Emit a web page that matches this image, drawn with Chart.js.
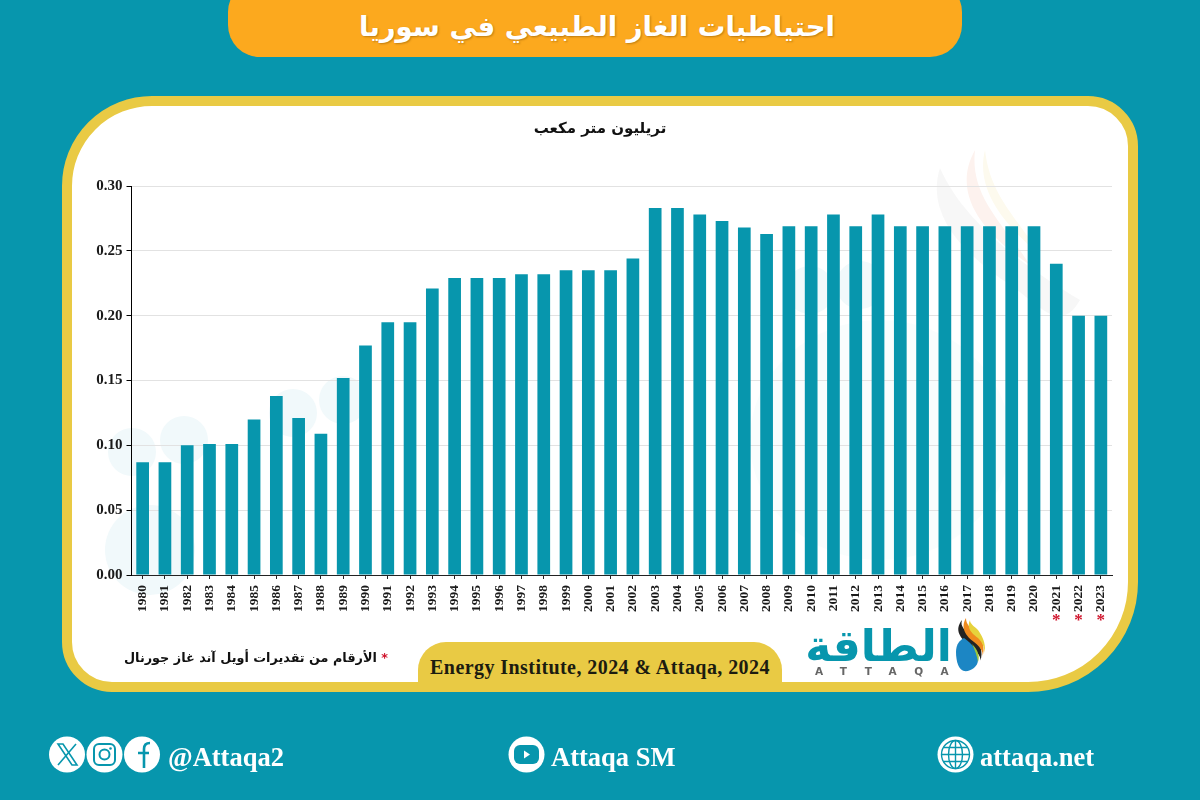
<!DOCTYPE html>
<html lang="ar">
<head>
<meta charset="utf-8">
<title>احتياطيات الغاز الطبيعي في سوريا</title>
<script src="https://cdn.jsdelivr.net/npm/chart.js@4"></script>
<style>
  html, body { margin: 0; padding: 0; background: #0796ad; }
  #page { position: relative; width: 1200px; height: 800px; overflow: hidden; background: #0796ad; }
  #page > * { position: absolute; }
  #banner { left: 228px; top: -20px; width: 734px; height: 77px; background: #fca91e; border-radius: 32px; }
  #title { left: 228px; top: 10px; width: 738px; text-align: center; direction: rtl; color: #fff;
    font: bold 27.5px "DejaVu Sans", sans-serif; text-shadow: 1px 1px 2px rgba(120,70,0,.45); }
  #panel { left: 62px; top: 96px; width: 1076px; height: 596px; box-sizing: border-box; background: #fff;
    border: 10px solid #e9ca44; border-radius: 90px 50px 110px 50px; }
  #watermark { left: 0; top: 0; }
  #chart { left: 0; top: 0; }
  #unit { left: 400px; top: 119px; width: 400px; text-align: center; direction: rtl; color: #111;
    font: bold 15px "DejaVu Sans", sans-serif; }
  #note { left: 90px; top: 650px; width: 298px; text-align: right; direction: rtl; color: #111;
    font: bold 12.8px "DejaVu Sans", sans-serif; white-space: nowrap; }
  #note span { color: #d0142c; }
  #sourceTab { left: 418px; top: 642px; width: 364px; height: 45px; background: #e9ca44; border-radius: 28px 28px 0 0; }
  #source { left: 418px; top: 656px; width: 364px; text-align: center; color: #1c1c10; letter-spacing: .43px;
    font: bold 20px "Liberation Serif", serif; white-space: nowrap; }
  #logoText { left: 800px; top: 615px; width: 157px; text-align: center; direction: rtl; color: #0796ad;
    font: bold 44px "DejaVu Sans", sans-serif; line-height: 62px; white-space: nowrap; }
  #logoLatin { left: 815px; top: 665px; color: #666; letter-spacing: 17.5px; font: bold 10.5px "DejaVu Sans", sans-serif; }
  .social { color: #fff; font: bold 26.5px "Liberation Serif", serif; white-space: nowrap; top: 742px; }
</style>
</head>
<body>
<div id="page">
  <div id="banner"></div>
  <div id="title">احتياطيات الغاز الطبيعي في سوريا</div>
  <div id="panel"></div>

  <svg id="watermark" width="1200" height="800">
    <g fill="#f1f9fb">
      <circle cx="132" cy="452" r="24"/>
      <circle cx="184" cy="440" r="24"/>
      <ellipse cx="150" cy="550" rx="45" ry="45"/>
      <circle cx="293" cy="413" r="24"/>
      <circle cx="343" cy="400" r="24"/>
      <circle cx="810" cy="290" r="24"/>
      <circle cx="860" cy="285" r="24"/>
      <ellipse cx="880" cy="440" rx="130" ry="120" opacity=".4"/>
    </g>
    <path d="M940 168 C925 215 965 255 1010 285 C1040 305 1060 335 1080 300 C1030 270 965 225 940 168Z" fill="#f4f4f4" opacity=".7"/>
    <path d="M975 150 C950 195 985 235 1030 265 C1000 220 970 195 975 150Z" fill="#fdf2ee"/>
    <path d="M985 150 C975 190 1005 225 1040 255 C1015 215 990 195 985 150Z" fill="#fdfaee"/>
  </svg>

  <canvas id="chart" width="1200" height="800"></canvas>

  <div id="unit">تريليون متر مكعب</div>
  <div id="note"><span>*</span> الأرقام من تقديرات أويل آند غاز جورنال</div>
  <div id="sourceTab"></div>
  <div id="source">Energy Institute, 2024 &amp; Attaqa, 2024</div>

  <div id="logoText">الطاقة</div>
  <div id="logoLatin">ATTAQA</div>
  <svg style="left:950px;top:616px" width="36" height="56" viewBox="0 0 36 56">
    <path d="M12 4 C4 14 10 22 20 30 C28 36 32 42 30 46 C34 36 30 26 22 20 C14 14 10 10 12 4Z" fill="#222"/>
    <path d="M16 2 C10 12 16 20 24 26 C32 32 34 38 32 42 C36 32 32 22 26 16 C20 12 16 8 16 2Z" fill="#ef8a1e"/>
    <path d="M20 4 C16 12 22 18 28 22 C34 28 35 34 34 38 C37 28 32 20 28 14 C24 10 20 8 20 4Z" fill="#e6d23c"/>
    <path d="M6 36 C6 28 10 24 14 22 C22 28 28 34 28 44 C28 51 20 56 14 55 C9 54 6 46 6 36Z" fill="#1c86c4"/>
    <path d="M22 28 C28 34 30 40 28 46 C27 40 25 34 22 28Z" fill="#9cc63c"/>
  </svg>

  <!-- social icons -->
  <svg style="left:49px;top:736px" width="112" height="37" viewBox="0 0 112 37">
    <circle cx="18" cy="18.5" r="18" fill="#fff"/>
    <circle cx="55.5" cy="18.5" r="18" fill="#fff"/>
    <circle cx="93" cy="18.5" r="18" fill="#fff"/>
    <path d="M9 8 L23 29 H28 L14 8Z" fill="none" stroke="#0796ad" stroke-width="1.6"/>
    <path d="M27 8 L9 29" stroke="#0796ad" stroke-width="1.6"/>
    <rect x="45" y="8" width="21" height="21" rx="5" fill="none" stroke="#0796ad" stroke-width="2"/>
    <circle cx="55.5" cy="18.5" r="5" fill="none" stroke="#0796ad" stroke-width="2"/>
    <circle cx="61.5" cy="12.5" r="1.3" fill="#0796ad"/>
    <path d="M95 32 V13 C95 9 97 7 101 7 M89 17 H100" fill="none" stroke="#0796ad" stroke-width="2.6"/>
  </svg>
  <div class="social" style="left:168px">@Attaqa2</div>

  <svg style="left:508px;top:736px" width="37" height="37" viewBox="0 0 37 37">
    <circle cx="18.5" cy="18.5" r="18" fill="#fff"/>
    <rect x="6" y="9" width="25" height="19" rx="6" fill="#0796ad"/>
    <path d="M16 14.5 L22 18.5 L16 22.5Z" fill="#fff"/>
  </svg>
  <div class="social" style="left:551px">Attaqa SM</div>

  <svg style="left:937px;top:736px" width="37" height="37" viewBox="0 0 37 37">
    <circle cx="18.5" cy="18.5" r="18" fill="#fff"/>
    <g fill="none" stroke="#0796ad" stroke-width="1.4">
      <circle cx="18.5" cy="18.5" r="14"/>
      <ellipse cx="18.5" cy="18.5" rx="7" ry="14"/>
      <path d="M18.5 4.5 V32.5 M4.5 18.5 H32.5 M6.5 11.5 H30.5 M6.5 25.5 H30.5"/>
    </g>
  </svg>
  <div class="social" style="left:980px">attaqa.net</div>
</div>

<script>
const years = ['1980','1981','1982','1983','1984','1985','1986','1987','1988','1989','1990','1991',
  '1992','1993','1994','1995','1996','1997','1998','1999','2000','2001','2002','2003','2004','2005',
  '2006','2007','2008','2009','2010','2011','2012','2013','2014','2015','2016','2017','2018','2019',
  '2020','2021','2022','2023'];
const reserves = [0.087,0.087,0.100,0.101,0.101,0.120,0.138,0.121,0.109,0.152,0.177,0.195,
  0.195,0.221,0.229,0.229,0.229,0.232,0.232,0.235,0.235,0.235,0.244,0.283,0.283,0.278,
  0.273,0.268,0.263,0.269,0.269,0.278,0.269,0.278,0.269,0.269,0.269,0.269,0.269,0.269,
  0.269,0.240,0.200,0.200];
const estimatedYears = ['2021','2022','2023'];

// red stars under the estimated years
const starsPlugin = {
  id: 'stars',
  afterDraw(chart) {
    const ctx = chart.ctx;
    const x = chart.scales.x;
    ctx.save();
    ctx.fillStyle = '#d0142c';
    ctx.font = 'bold 17px "Liberation Serif", serif';
    ctx.textAlign = 'center';
    ctx.textBaseline = 'middle';
    estimatedYears.forEach(function (year) {
      ctx.fillText('*', x.getPixelForValue(years.indexOf(year)), 621);
    });
    ctx.restore();
  }
};

const chart = new Chart(document.getElementById('chart'), {
  type: 'bar',
  data: {
    labels: years,
    datasets: [{
      data: reserves,
      backgroundColor: '#0796ad',
      barPercentage: 0.57,
      categoryPercentage: 1
    }]
  },
  options: {
    responsive: false,
    animation: false,
    layout: { padding: { top: 186, right: 88 } },
    plugins: { legend: { display: false }, tooltip: { enabled: false } },
    scales: {
      x: {
        afterFit: function (scale) { scale.height = 225; },
        border: { color: '#222', width: 1 },
        grid: { drawOnChartArea: false, offset: false, tickColor: '#222', tickLength: 4 },
        ticks: {
          autoSkip: false,
          minRotation: 90,
          maxRotation: 90,
          padding: 6,
          color: '#1a1a1a',
          font: { family: '"Liberation Serif", serif', weight: 'bold', size: 13.5 }
        }
      },
      y: {
        min: 0,
        max: 0.3,
        afterFit: function (scale) { scale.width = 131.5; },
        border: { color: '#000', width: 1 },
        grid: { color: '#e2e2e2', tickColor: '#000', tickLength: 5 },
        ticks: {
          stepSize: 0.05,
          padding: 4,
          color: '#1a1a1a',
          font: { family: '"Liberation Serif", serif', weight: 'bold', size: 15 },
          callback: function (value) { return value.toFixed(2); }
        }
      }
    }
  },
  plugins: [starsPlugin]
});
</script>
</body>
</html>
